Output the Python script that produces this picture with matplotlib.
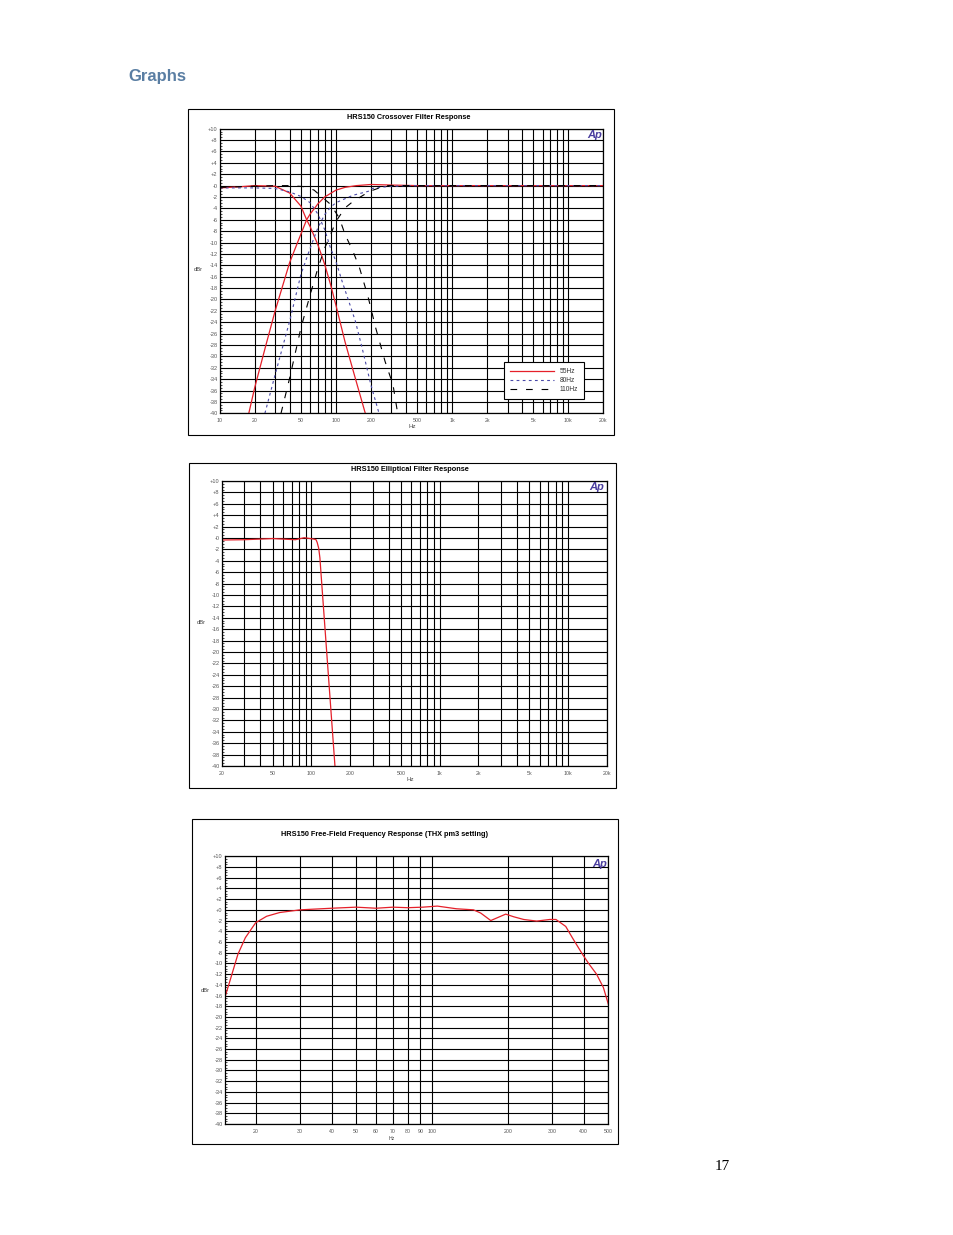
import numpy as np
import matplotlib
matplotlib.use("Agg")
import matplotlib.pyplot as plt
from matplotlib.patches import Rectangle
from matplotlib.ticker import MultipleLocator, FixedLocator, NullFormatter

plt.rcParams['font.family'] = ['Liberation Sans', 'DejaVu Sans']

# ---------------- data ----------------
# Chart 1: crossover filter response (dBr vs Hz)
f55_lp = [10, 15, 20, 30, 40, 50, 56, 60, 70, 80, 90, 100, 120, 150, 179]
db55_lp = [-0.4, -0.2, 0.0, -0.1, -1.3, -3.6, -6.0, -7.2, -10.4, -13.8, -17.4, -21.0, -27.5, -34.5, -40.0]
f55_hp = [17.8, 20, 25, 30, 40, 50, 56, 60, 70, 80, 100, 120, 150, 200, 300, 500, 20000]
db55_hp = [-40.0, -35.5, -28.0, -22.0, -13.5, -8.5, -6.0, -5.0, -3.2, -2.0, -0.8, -0.3, 0.0, 0.2, 0.1, 0.0, 0.0]

f80_lp = [10, 20, 30, 40, 50, 60, 70, 80, 90, 100, 113, 129, 147, 168, 200, 235]
db80_lp = [-0.4, -0.4, -0.5, -1.1, -1.9, -3.0, -5.0, -7.7, -11.0, -13.3, -16.8, -20.3, -23.8, -28.5, -35.0, -40.0]
f80_hp = [24.5, 30, 40, 50, 60, 70, 80, 90, 100, 140, 190, 205, 270, 400, 20000]
db80_hp = [-40.0, -33.2, -23.8, -15.6, -11.0, -7.4, -5.1, -3.8, -3.0, -1.7, -1.0, -0.5, -0.2, 0.0, 0.0]

f110_lp = [10, 20, 30, 40, 55, 65, 72, 90, 107, 120, 140, 160, 190, 220, 265, 310, 340]
db110_lp = [-0.3, -0.1, 0.0, 0.0, -0.2, -0.8, -1.6, -3.3, -5.7, -8.6, -11.5, -14.5, -19.7, -25.0, -30.9, -35.0, -40.0]
f110_hp = [33.7, 40, 50, 60, 70, 80, 90, 100, 120, 140, 195, 270, 20000]
db110_hp = [-40.0, -33.8, -25.0, -19.2, -14.5, -11.0, -8.6, -6.3, -3.9, -2.8, -1.0, 0.0, 0.0]

# Chart 2: elliptical filter response
f_ell = [20, 30, 50, 75, 88, 105, 108.7, 111, 114, 116.5, 118.8, 152.6]
db_ell = [-0.35, -0.3, -0.1, -0.3, 0.05, -0.2, -0.3, -0.8, -1.8, -3.5, -6.2, -40.0]

# Chart 3: free-field frequency response (THX pm3 setting)
f_ff = [15.07, 15.8, 17.0, 18.2, 20, 22.1, 24.9, 30, 40, 50, 60, 70, 80, 92, 105, 125,
        146, 156, 171, 181, 196, 211, 231, 260, 293, 310, 339, 360, 395, 419, 449, 478, 500]
db_ff = [-16.5, -13.3, -8.3, -5.2, -2.4, -1.2, -0.5, 0.0, 0.3, 0.5, 0.3, 0.5, 0.4, 0.5, 0.7, 0.2,
         0.0, -0.6, -2.0, -1.5, -0.8, -1.3, -1.8, -2.1, -1.8, -1.8, -3.1, -5.2, -8.3, -10.1, -12.0, -14.5, -17.6]

# axis ticks
yticks = list(range(-40, 11, 2))
x1_major = [10, 20, 50, 100, 200, 500, 1000, 2000, 5000, 10000, 20000]
x1_labels = ['10', '20', '50', '100', '200', '500', '1k', '2k', '5k', '10k', '20k']
x2_major = [20, 50, 100, 200, 500, 1000, 2000, 5000, 10000, 20000]
x2_labels = ['20', '50', '100', '200', '500', '1k', '2k', '5k', '10k', '20k']
x3_major = [20, 30, 40, 50, 60, 70, 80, 90, 100, 200, 300, 400, 500]
x3_labels = ['20', '30', '40', '50', '60', '70', '80', '90', '100', '200', '300', '400', '500']
decade_grid = [m * 10 ** e for e in range(1, 5) for m in range(1, 10)] + [20000]

# ---------------- layout ----------------
W, H = 954, 1235
fig = plt.figure(figsize=(W / 100, H / 100), dpi=100)

def axes_px(l, t, r, b):
    return fig.add_axes([l / W, 1 - b / H, (r - l) / W, (b - t) / H])

def ftext(x, y, s, **kw):
    kw.setdefault('ha', 'center')
    kw.setdefault('va', 'center')
    fig.text(x / W, 1 - y / H, s, **kw)

def frame(l, t, r, b):
    fig.add_artist(Rectangle((l / W, 1 - b / H), (r - l) / W, (b - t) / H,
                             transform=fig.transFigure, fill=False, ec='black', lw=0.8))

GRID = dict(color='black', lw=0.8)
TICKC = '#555555'

def style(ax, xlim, xmajor, xlabels, xgrid, zero_label):
    ax.set_xscale('log')
    ax.set_xlim(*xlim)
    ax.set_ylim(-40, 10)
    labs = []
    for v in yticks:
        if v > 0:
            labs.append('+%d' % v)
        elif v == 0:
            labs.append(zero_label)
        else:
            labs.append('%d' % v)
    ax.set_yticks(yticks, labs)
    ax.yaxis.set_minor_locator(MultipleLocator(0.5))
    ax.tick_params(axis='y', which='major', direction='in', length=3, width=0.6,
                   labelsize=4.1, labelcolor=TICKC, pad=1.5)
    ax.tick_params(axis='y', which='minor', direction='in', length=1.6, width=0.5)
    ax.set_xticks(xmajor, xlabels)
    ax.xaxis.set_minor_locator(FixedLocator([g for g in xgrid if xlim[0] < g < xlim[1]]))
    ax.xaxis.set_minor_formatter(NullFormatter())
    ax.tick_params(axis='x', which='both', length=0, labelsize=3.8, labelcolor=TICKC, pad=3.3)
    ax.grid(axis='x', which='both', **GRID)
    ax.grid(axis='y', which='major', **GRID)
    ax.set_axisbelow(True)
    for s in ax.spines.values():
        s.set_linewidth(0.9)

RED = '#e5202a'
BLUE = '#4a4aa8'

# ---------------- page text ----------------
ftext(128, 77, 'Graphs', ha='left', fontsize=12, fontweight='bold', color='#5a7ea3')
ftext(722, 1166, '17', fontsize=11, family=['Liberation Serif', 'DejaVu Serif'])

# ---------------- chart 1 ----------------
frame(187.7, 109, 614.3, 435.3)
ax1 = axes_px(219.7, 128.7, 603.3, 413.3)
style(ax1, (10, 20000), x1_major, x1_labels, decade_grid, '-0')
l55, = ax1.plot(f55_lp, db55_lp, color=RED, lw=0.9, label='55Hz')
ax1.plot(f55_hp, db55_hp, color=RED, lw=0.9)
l80, = ax1.plot(f80_lp, db80_lp, color=BLUE, lw=0.8, dashes=(2.5, 3), label='80Hz')
ax1.plot(f80_hp, db80_hp, color=BLUE, lw=0.8, dashes=(2.5, 3))
l110, = ax1.plot(f110_lp, db110_lp, color='black', lw=0.8, dashes=(6, 8), label='110Hz')
ax1.plot(f110_hp, db110_hp, color='black', lw=0.8, dashes=(6, 8))
leg = ax1.legend(handles=[l55, l80, l110], loc='upper left',
                 bbox_to_anchor=(504.3 / W, 1 - 362.3 / H), bbox_transform=fig.transFigure,
                 fontsize=4.8, handlelength=6.6, handletextpad=0.8, labelspacing=0.3,
                 borderpad=0.9, borderaxespad=0, fancybox=False, framealpha=1,
                 edgecolor='black')
leg.get_frame().set_linewidth(0.8)
for t in leg.get_texts():
    t.set_color('#333333')
ftext(409, 117.3, 'HRS150 Crossover Filter Response', fontsize=5.3, fontweight='bold')
ftext(198.7, 269.7, 'dBr', fontsize=4.2, color='#444444')
ftext(412, 426.3, 'Hz', fontsize=4.4, color='#444444')
ftext(594.3, 134.7, 'Ap', fontsize=8, fontweight='bold', fontstyle='italic', color='#4a3d9e')

# ---------------- chart 2 ----------------
frame(189.3, 462.7, 616, 788.3)
ax2 = axes_px(221.7, 481, 606.7, 766)
style(ax2, (20, 20000), x2_major, x2_labels, decade_grid, '-0')
ax2.plot(f_ell, db_ell, color=RED, lw=0.9)
ftext(410, 469.3, 'HRS150 Elliptical Filter Response', fontsize=5.3, fontweight='bold')
ftext(201, 622.7, 'dBr', fontsize=4.2, color='#444444')
ftext(410, 779.3, 'Hz', fontsize=4.4, color='#444444')
ftext(597, 487.3, 'Ap', fontsize=8, fontweight='bold', fontstyle='italic', color='#4a3d9e')

# ---------------- chart 3 ----------------
frame(191.7, 819, 618.3, 1144)
ax3 = axes_px(224.7, 856.3, 608.3, 1124)
style(ax3, (15.07, 500), x3_major, x3_labels, x3_major, '+0')
ax3.plot(f_ff, db_ff, color=RED, lw=0.9)
ftext(385, 834, 'HRS150 Free-Field Frequency Response (THX pm3 setting)', fontsize=5.3, fontweight='bold')
ftext(205, 990, 'dBr', fontsize=4.2, color='#444444')
ftext(392, 1138, 'Hz', fontsize=3.8, color='#444444')
ftext(599.3, 863.7, 'Ap', fontsize=8, fontweight='bold', fontstyle='italic', color='#4a3d9e')

fig.savefig('out.png', dpi=100)
